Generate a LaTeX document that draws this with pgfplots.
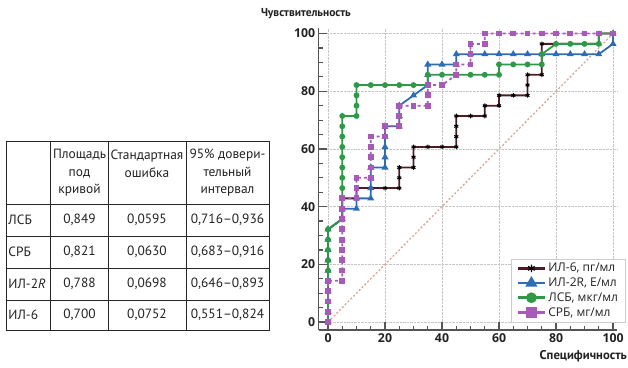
\documentclass[border=0pt]{standalone}
\usepackage{pgfplots}
\pgfplotsset{compat=1.18}
\usepackage{fontspec}
\setmainfont{PT Sans}
\newfontfamily\chartfont{Open Sans}
\definecolor{cIL6}{HTML}{4E1C22}
\definecolor{cIL2}{HTML}{2E6DB4}
\definecolor{cLSB}{HTML}{2E9A48}
\definecolor{cCRB}{HTML}{A65CB6}
\definecolor{axgray}{HTML}{555555}
\definecolor{diag}{HTML}{D9A595}
\definecolor{txt}{HTML}{222222}
\begin{document}
\begin{tikzpicture}
\useasboundingbox (0pt,0pt) rectangle (628pt,367pt);
% ---- table ----
\begin{scope}[x=1pt,y=1pt]
\begin{scope}[line width=0.9pt, draw=black!85]
\draw (6.7,367-141) rectangle (269.3,367-330);
\foreach \x in {50.7,108.3,186} \draw (\x,367-141) -- (\x,367-330);
\foreach \y in {204,236,268,300} \draw (6.7,367-\y) -- (269.3,367-\y);
\end{scope}
\begin{scope}[every node/.style={font=\fontsize{13.4}{17.5}\selectfont, text=txt, inner sep=0pt, align=center}]
\node at (79.5,367-173) {Площадь\\под\\кривой};
\node at (147,367-164) {Стандартная\\ошибка};
\node at (227.5,367-173) {95\% довери-\\тельный\\интервал};
\node[anchor=west] at (8.3,367-220) {ЛСБ};
\node[anchor=west] at (8.3,367-252) {СРБ};
\node[anchor=west] at (8.3,367-284) {ИЛ-2\textit{R}};
\node[anchor=west] at (8.3,367-315) {ИЛ-6};
\node at (79.5,367-220) {0,849};
\node at (79.5,367-252) {0,821};
\node at (79.5,367-284) {0,788};
\node at (79.5,367-315) {0,700};
\node at (147,367-220) {0,0595};
\node at (147,367-252) {0,0630};
\node at (147,367-284) {0,0698};
\node at (147,367-315) {0,0752};
\node at (227.5,367-220) {0,716–0,936};
\node at (227.5,367-252) {0,683–0,916};
\node at (227.5,367-284) {0,646–0,893};
\node at (227.5,367-315) {0,551–0,824};
\end{scope}
\node[font=\fontsize{11.5}{13}\selectfont\bfseries, text=txt, anchor=east, inner sep=0pt] at (351,367-14) {Чувствительность};
\node[font=\fontsize{12.7}{14}\selectfont\bfseries, text=txt, anchor=east, inner sep=0pt] at (627,367-356) {Специфичность};
\end{scope}
% ---- ROC plot ----
\begin{axis}[
  at={(318.6pt,36.9pt)}, anchor=south west, scale only axis,
  width=298.7pt, height=302.3pt,
  xmin=-3.3, xmax=101.5, ymin=-2.8, ymax=102,
  axis lines*=left,
  axis line style={axgray, line width=1.6pt},
  xtick={0,20,...,100}, ytick={0,20,...,100},
  minor xtick={5,10,15,25,30,35,45,50,55,65,70,75,85,90,95},
  minor ytick={5,10,15,25,30,35,45,50,55,65,70,75,85,90,95},
  tick align=inside, major tick length=8pt, minor tick length=4.5pt,
  tick style={axgray, line width=1.2pt},
  grid=major, grid style={densely dotted, gray!45, line width=0.8pt},
  ticklabel style={font=\chartfont\fontsize{12.3}{15}\selectfont\bfseries, text=txt},
  /pgf/number format/assume math mode=true,
  clip=false,
  legend style={at={(axis cs:104.2,0)}, anchor=south east, draw=gray!40, fill=white,
    font=\chartfont\fontsize{12}{14}\selectfont, text=txt, row sep=0.5pt,
    inner xsep=5pt, inner ysep=2.5pt, outer sep=0pt},
  legend cell align=left,
  legend image code/.code={\draw[mark repeat=2,mark phase=2] plot coordinates {(0pt,0pt) (13.5pt,0pt) (27pt,0pt)};},
]
\addplot[forget plot, diag, line width=1.3pt, dash pattern=on 2pt off 2pt] coordinates {(0,0) (100,100)};
% IL-6
\addplot[cIL6, line width=1.8pt, mark=asterisk, mark size=2.3pt,
  mark options={black, solid, line width=1pt},
  legend image post style={line width=2.8pt, mark size=3.8pt, mark options={black, line width=1.3pt}}] coordinates {
(0,0)(0,3.57)(0,7.14)(0,10.71)(0,14.29)(0,17.86)(0,21.43)(0,25)(0,28.57)(0,32.14)(5,35.71)(5,39.29)(5,42.86)(10,42.86)(10,46.43)(15,46.43)(20,46.43)(25,46.43)(25,50)(25,53.57)(30,53.57)(30,57.14)(30,60.71)(35,60.71)(40,60.71)(45,60.71)(45,64.29)(45,67.86)(45,71.43)(50,71.43)(55,71.43)(55,75)(60,75)(60,78.57)(65,78.57)(70,78.57)(70,82.14)(70,85.71)(75,85.71)(75,89.29)(75,92.86)(75,96.43)(80,96.43)(85,96.43)(90,96.43)(95,96.43)(95,100)(100,100)};
\addlegendentry{ИЛ-6, пг/мл}
% IL-2R
\addplot[cIL2, line width=1.8pt, mark=triangle*, mark size=2.3pt,
  mark options={solid},
  legend image post style={line width=2.8pt, mark size=4.2pt}] coordinates {
(0,0)(0,3.57)(0,7.14)(0,10.71)(0,14.29)(0,17.86)(0,21.43)(0,25)(0,28.57)(0,32.14)(5,35.71)(5,39.29)(10,39.29)(10,42.86)(15,42.86)(15,46.43)(15,50)(15,53.57)(20,53.57)(20,57.14)(20,60.71)(20,64.29)(20,67.86)(25,67.86)(25,71.43)(25,75)(30,78.57)(35,82.14)(35,85.71)(35,89.29)(40,89.29)(45,89.29)(45,92.86)(50,92.86)(55,92.86)(60,92.86)(65,92.86)(70,92.86)(75,92.86)(80,92.86)(85,92.86)(90,92.86)(95,92.86)(100,96.43)(100,100)};
\addlegendentry{ИЛ-2R, Е/мл}
% LSB
\addplot[cLSB, line width=1.8pt, mark=*, mark size=2pt,
  mark options={solid},
  legend image post style={line width=2.8pt, mark size=3.9pt}] coordinates {
(0,0)(0,3.57)(0,7.14)(0,10.71)(0,14.29)(0,17.86)(0,21.43)(0,25)(0,28.57)(0,32.14)(5,35.71)(5,39.29)(5,42.86)(5,46.43)(5,50)(5,53.57)(5,57.14)(5,60.71)(5,64.29)(5,67.86)(5,71.43)(10,71.43)(10,75)(10,78.57)(10,82.14)(15,82.14)(20,82.14)(25,82.14)(30,82.14)(35,82.14)(35,85.71)(40,85.71)(45,85.71)(50,85.71)(55,85.71)(60,85.71)(60,89.29)(65,89.29)(70,89.29)(75,89.29)(75,92.86)(80,96.43)(85,96.43)(90,96.43)(95,96.43)(95,100)(100,100)};
\addlegendentry{ЛСБ, мкг/мл}
% CRB
\addplot[cCRB, line width=1.8pt, dashed, mark=square*, mark size=2pt,
  mark options={solid},
  legend image post style={line width=2.8pt, mark size=3.9pt, solid}] coordinates {
(0,0)(0,3.57)(0,7.14)(0,10.71)(0,14.29)(5,14.29)(5,17.86)(5,21.43)(5,25)(5,28.57)(5,32.14)(5,35.71)(5,39.29)(5,42.86)(10,42.86)(10,46.43)(10,50)(15,50)(15,53.57)(15,57.14)(15,60.71)(15,64.29)(20,64.29)(20,67.86)(25,67.86)(25,71.43)(25,75)(30,75)(35,75)(35,78.57)(35,82.14)(40,82.14)(45,85.71)(45,89.29)(50,89.29)(50,92.86)(50,96.43)(55,96.43)(55,100)(60,100)(65,100)(70,100)(75,100)(80,100)(85,100)(90,100)(95,100)(100,100)};
\addlegendentry{СРБ, мг/мл}
\end{axis}
\end{tikzpicture}
\end{document}
